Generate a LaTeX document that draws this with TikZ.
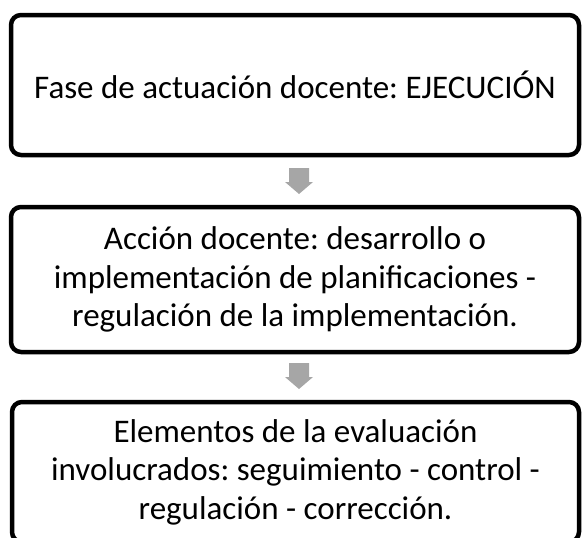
\documentclass[tikz,border=0pt]{standalone}
\usepackage{fontspec}
\setmainfont{Carlito}
\frenchspacing
\begin{document}
\begin{tikzpicture}[x=1pt,y=-1pt,
  boxstyle/.style={draw=black, line width=4.5pt, rounded corners=10pt, fill=white,
    align=center, inner sep=0pt, font=\fontsize{33pt}{38.5pt}\selectfont\frenchspacing, text=black},
  arrowfill/.style={fill=black!35, draw=none}]
\useasboundingbox (0,0) rectangle (582,538);
\begin{scope}
\clip (0,0) rectangle (582,538);
\node[boxstyle, minimum width=568pt, minimum height=140pt] (b1) at (295,85)
  {Fase de actuación docente: EJECUCIÓN};
\node[boxstyle, minimum width=568pt, minimum height=145pt] (b2) at (295,279.5)
  {Acción docente: desarrollo o\\implementación de planificaciones -\\regulación de la implementación.};
\node[boxstyle, minimum width=567pt, minimum height=140pt] (b3) at (295.5,472)
  {Elementos de la evaluación\\involucrados: seguimiento - control -\\regulación - corrección.};
\coordinate (a1) at (299,168);
\coordinate (a2) at (299,363);
\fill[arrowfill] (a1) ++(-10,0) -- ++(20,0) -- ++(0,14) -- ++(4,0) -- ++(-14,12) -- ++(-14,-12) -- ++(4,0) -- cycle;
\fill[arrowfill] (a2) ++(-10,0) -- ++(20,0) -- ++(0,14) -- ++(4,0) -- ++(-14,12) -- ++(-14,-12) -- ++(4,0) -- cycle;
\end{scope}
\end{tikzpicture}
\end{document}
